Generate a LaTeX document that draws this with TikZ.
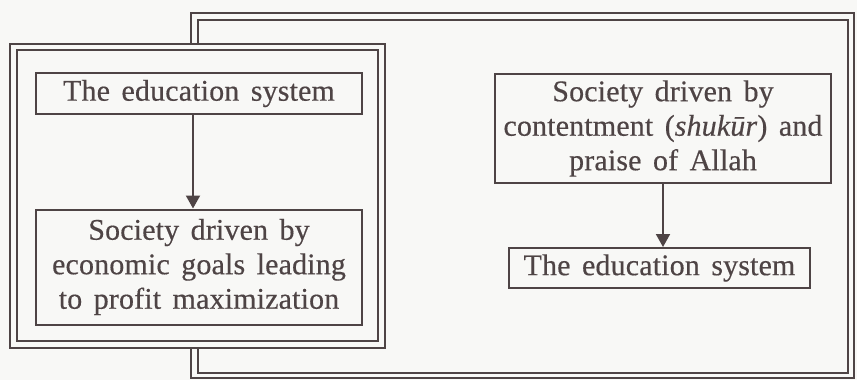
\documentclass[tikz,border=0pt]{standalone}
\usepackage{fontspec}
\setmainfont{Liberation Serif}[LetterSpace=0.5, WordSpace=1.5, FakeBold=0.4]
\usetikzlibrary{arrows.meta}
\definecolor{ink}{HTML}{4E4445}
\definecolor{paper}{HTML}{F8F8F6}
\tikzset{
  frame/.style={draw=ink, line width=2pt},
  box/.style={draw=ink, line width=2pt, rectangle, inner sep=0pt, align=center,
    text=ink, font=\fontsize{30}{34.5}\selectfont},
  arr/.style={draw=ink, line width=2pt, -{Triangle[width=14pt,length=13pt]}}
}
\begin{document}
\begin{tikzpicture}[x=1pt,y=-1pt]
\fill[paper] (0,0) rectangle (857,380);
\useasboundingbox (0,0) rectangle (857,380);
% right frame
\draw[frame] (191,13) rectangle (854,378);
\draw[frame] (198,20) rectangle (848,373);
% left frame
\fill[paper] (10,44) rectangle (385,348);
\draw[frame] (10,44) rectangle (385,348);
\draw[frame] (17,50) rectangle (378,341);
% boxes
\node[box, minimum width=326pt, minimum height=41pt] (L1) at (199,93.5) {The education system};
\node[box, minimum width=326pt, minimum height=115pt] (L2) at (199,267)
  {Society driven by\\economic goals leading\\to profit maximization};
\node[box, minimum width=336pt, minimum height=109pt] (R1) at (663,128.5)
  {Society driven by\\contentment (\textit{shukūr}) and\\praise of Allah};
\node[box, minimum width=301pt, minimum height=40pt] (R2) at (659.5,268) {The education system};
% arrows
\draw[arr] ([xshift=-6pt]L1.south) -- ([xshift=-6pt]L2.north);
\draw[arr] (R1.south) -- (R1.south |- R2.north);
\end{tikzpicture}
\end{document}
